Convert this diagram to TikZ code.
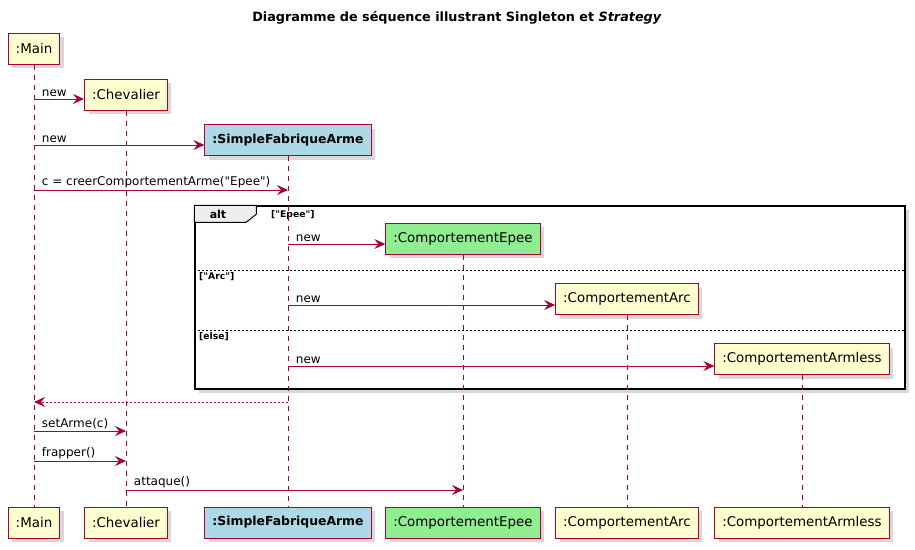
\documentclass[tikz,border=0pt]{standalone}
\usepackage{fontspec}
\setmainfont{DejaVu Sans}
\usepackage{xcolor}
\usepackage{tikz}
\usetikzlibrary{positioning, calc, arrows.meta, shadows, backgrounds}
\definecolor{umlred}{RGB}{168, 0, 54}
\definecolor{umlyellow}{RGB}{254, 254, 206}
\definecolor{umlblue}{RGB}{173, 216, 230}
\definecolor{umlgreen}{RGB}{144, 238, 144}
\definecolor{altgray}{RGB}{238, 238, 238}

\tikzset{
    participant/.style={draw=umlred, fill=umlyellow, line width=1pt, minimum height=31pt, inner xsep=7.5pt,
        font=\fontsize{13.4}{16}\selectfont,
        drop shadow={shadow xshift=4pt, shadow yshift=-4pt, fill=black!30}},
    lifeline/.style={draw=umlred, line width=0.8pt, dash pattern=on 5pt off 5pt},
    msg/.style={draw=umlred, line width=0.9pt, -{Stealth[length=11pt, width=10pt, inset=4pt]}},
    reply/.style={msg, dash pattern=on 2pt off 2pt},
    lbl/.style={anchor=south west, xshift=6pt, inner sep=1.5pt, text=black, font=\fontsize{12}{14}\selectfont},
    altframe/.style={draw=black, line width=1.5pt, fill=white, inner sep=0pt,
        drop shadow={shadow xshift=4pt, shadow yshift=-4pt, fill=black!30}},
    altsep/.style={draw=black, line width=0.6pt, dash pattern=on 2pt off 2pt},
    guard/.style={anchor=west, inner sep=0pt, font=\bfseries\fontsize{9.2}{11}\selectfont}
}

\begin{document}
\begin{tikzpicture}[x=1pt, y=-1pt]
        \useasboundingbox (0,0) rectangle (915,549);

        \node[font=\bfseries\fontsize{12.8}{15}\selectfont] (title) at (457,18) {Diagramme de séquence illustrant Singleton et \textit{Strategy}};

        \node[participant] (mainTop) at (34,48.5) {:Main};
        \node[participant] (chevTop) at (126,94.5) {:Chevalier};
        \node[participant, fill=umlblue, font=\bfseries\fontsize{12.4}{15}\selectfont] (fabTop) at (288,140) {:SimpleFabriqueArme};
        \node[participant, fill=umlgreen] (epeeTop) at (463,238.5) {:ComportementEpee};
        \node[participant] (arcTop) at (627,299) {:ComportementArc};
        \node[participant] (armTop) at (802,359) {:ComportementArmless};

        \node[participant] (mainBot) at (34,522.5) {:Main};
        \node[participant] (chevBot) at (126,522.5) {:Chevalier};
        \node[participant, fill=umlblue, font=\bfseries\fontsize{12.4}{15}\selectfont] (fabBot) at (288,522.5) {:SimpleFabriqueArme};
        \node[participant, fill=umlgreen] (epeeBot) at (463,522.5) {:ComportementEpee};
        \node[participant] (arcBot) at (627,522.5) {:ComportementArc};
        \node[participant] (armBot) at (802,522.5) {:ComportementArmless};

        \begin{scope}[on background layer]
            \node[altframe, minimum width=710pt, minimum height=183pt] (alt) at (550,297.5) {};
        \end{scope}
        \draw[fill=altgray, line width=1pt] (alt.north west) -- ++(62,0) -- ++(0,9) -- ++(-10,8) -- ++(-52,0) -- cycle;
        \node[font=\bfseries\fontsize{11}{13}\selectfont] (altlabel) at (218,214.5) {alt};
        \node[guard] (g1) at (271,215) {[\textquotedbl Epee\textquotedbl]};
        \node[guard] (g2) at (199,277) {[\textquotedbl Arc\textquotedbl]};
        \node[guard] (g3) at (199,337) {[else]};

        \foreach \n/\y in {1/99, 2/145, 3/190, 4/244, 5/305, 6/366, 7/402, 8/431, 9/461, 10/490, 11/270, 12/330}
            \coordinate (l\n) at (0,\y);

        \draw[altsep] (alt.west |- l11) -- (alt.east |- l11);
        \draw[altsep] (alt.west |- l12) -- (alt.east |- l12);

        \foreach \p in {main, chev, fab, epee, arc, arm}
            \draw[lifeline] (\p Top.south) -- (\p Bot.north);

        \draw[msg] (mainTop |- l1) -- (chevTop.west |- l1) node[lbl, pos=0] {new};
        \draw[msg] (mainTop |- l2) -- (fabTop.west |- l2) node[lbl, pos=0] {new};
        \draw[msg] (mainTop |- l3) -- (fabTop |- l3) node[lbl, pos=0] {c = creerComportementArme(\textquotedbl Epee\textquotedbl)};
        \draw[msg] (fabTop |- l4) -- (epeeTop.west |- l4) node[lbl, pos=0] {new};
        \draw[msg] (fabTop |- l5) -- (arcTop.west |- l5) node[lbl, pos=0] {new};
        \draw[msg] (fabTop |- l6) -- (armTop.west |- l6) node[lbl, pos=0] {new};
        \draw[reply] (fabTop |- l7) -- (mainTop |- l7);
        \draw[msg] (mainTop |- l8) -- (chevTop |- l8) node[lbl, pos=0] {setArme(c)};
        \draw[msg] (mainTop |- l9) -- (chevTop |- l9) node[lbl, pos=0] {frapper()};
        \draw[msg] (chevTop |- l10) -- (epeeTop |- l10) node[lbl, pos=0] {attaque()};
\end{tikzpicture}
\end{document}
